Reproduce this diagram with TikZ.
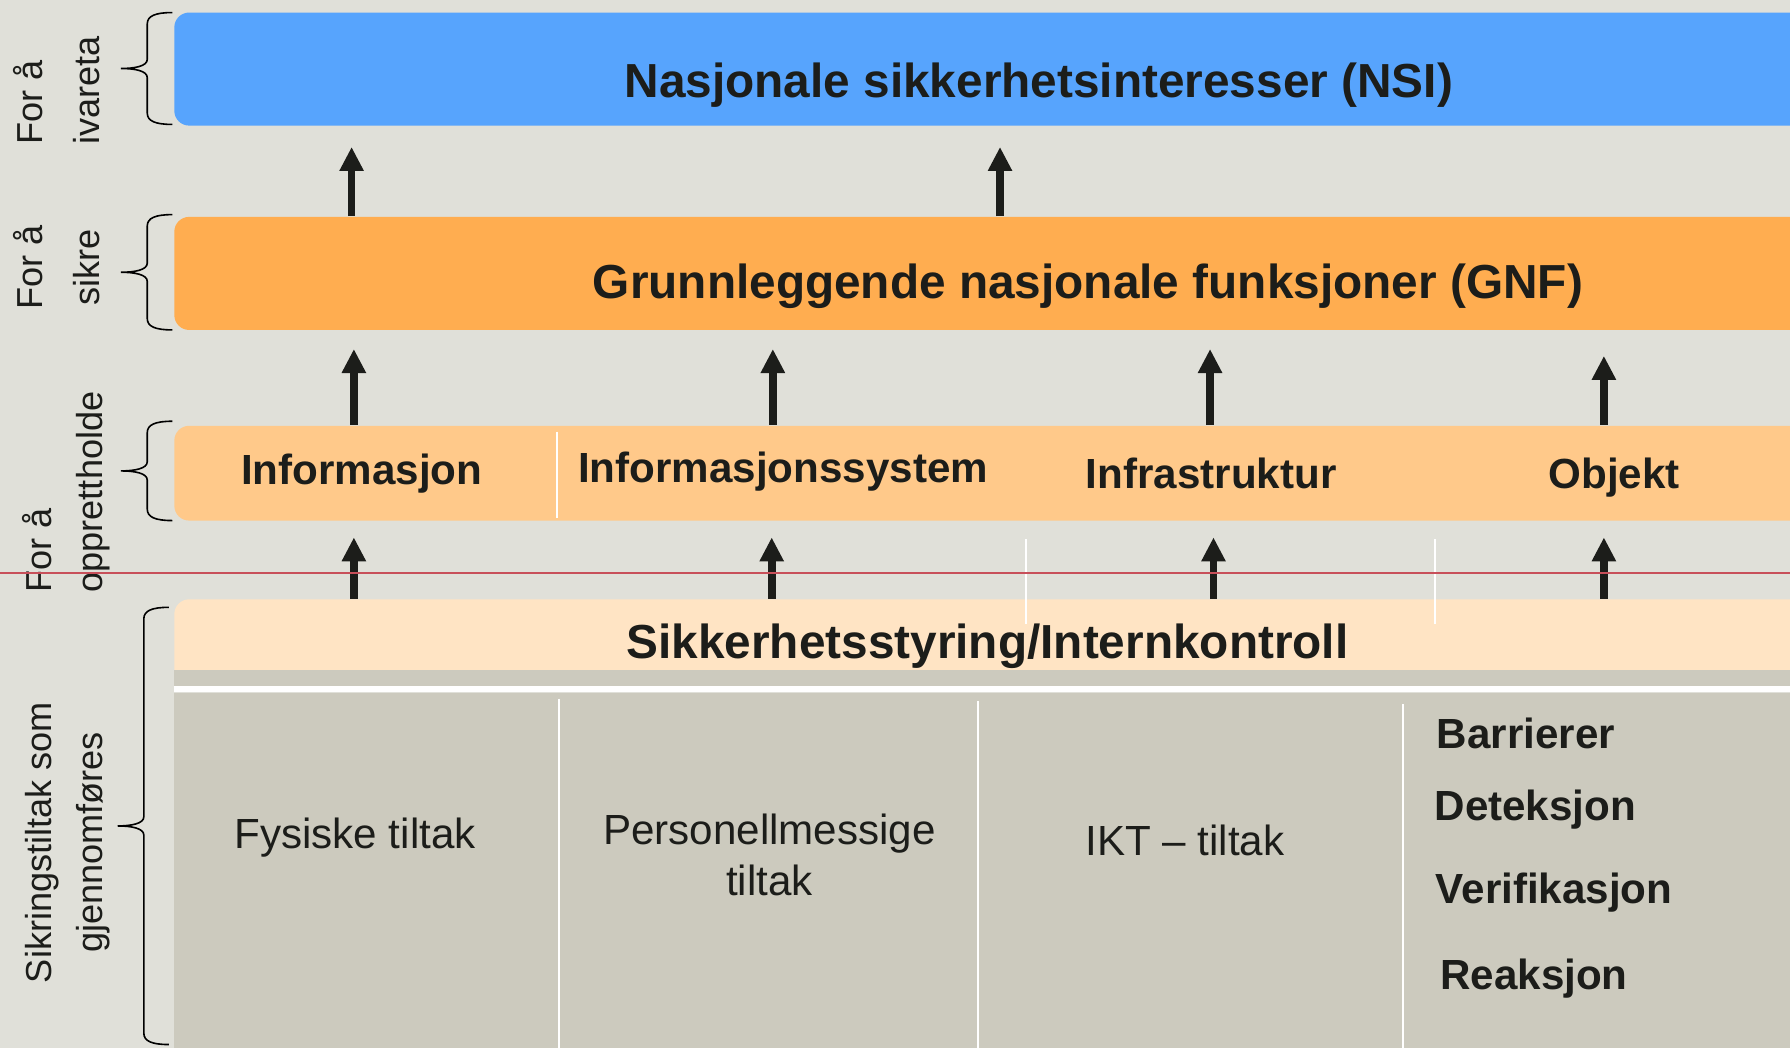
\documentclass[tikz,border=0pt]{standalone}
\usepackage{fontspec}
\setmainfont{Liberation Sans}
\usetikzlibrary{arrows.meta}

\definecolor{bggrey}{RGB}{224,224,217}
\definecolor{nsiblue}{RGB}{87,164,253}
\definecolor{gnforange}{RGB}{255,173,80}
\definecolor{verdiorange}{RGB}{255,201,138}
\definecolor{styringbeige}{RGB}{255,228,196}
\definecolor{tiltakgrey}{RGB}{204,202,190}
\definecolor{inkdark}{RGB}{28,29,26}
\definecolor{redline}{RGB}{200,80,90}

% brace on the left: top, bottom, x of the spine
\newcommand{\levelbrace}[3]{%
  \pgfmathsetmacro{\bmid}{(#1+#2)/2}
  \draw[sidebrace] (#3+22,#1) .. controls (#3+7,#1) and (#3,#1+3) .. (#3,#1+10)
    -- (#3,\bmid-8) .. controls (#3,\bmid-2) and (#3-11,\bmid) .. (#3-23,\bmid)
    .. controls (#3-11,\bmid) and (#3,\bmid+2) .. (#3,\bmid+8)
    -- (#3,#2-10) .. controls (#3,#2-3) and (#3+7,#2) .. (#3+22,#2);}

\begin{document}
\begin{tikzpicture}[x=0.01cm, y=-0.01cm,
    band/.style={rectangle, rounded corners=0.13cm, anchor=west, inner sep=0pt, minimum width=14.6cm},
    bigtext/.style={font=\fontsize{11.9}{14}\selectfont\bfseries, text=inkdark, inner sep=0pt, yshift=-0.04cm},
    midtext/.style={font=\fontsize{10.5}{12.8}\selectfont\bfseries, text=inkdark, inner sep=0pt, yshift=-0.035cm},
    tiltaktext/.style={font=\fontsize{10.5}{12.8}\selectfont, text=inkdark, align=center, inner sep=0pt, yshift=-0.03cm},
    sidetext/.style={font=\fontsize{9}{14.2}\selectfont, text=inkdark, rotate=90, inner sep=0pt},
    uparrow/.style={draw=inkdark, line width=0.067cm, -{Triangle[width=0.2cm,length=0.21cm]}},
    divider/.style={draw=white, line width=0.45pt},
    sidebrace/.style={draw=black, line width=0.4pt},
  ]
  \useasboundingbox (0,0) rectangle (1568,918);
  \clip (0,0) rectangle (1568,918);
  \fill[bggrey] (0,0) rectangle (1568,918);

  %Bands
  \node[band, fill=nsiblue, minimum height=0.99cm] (nsi) at (152,60.5) {};
  \node[band, fill=gnforange, minimum height=0.99cm] (gnf) at (152,239.5) {};
  \node[band, fill=verdiorange, minimum height=0.83cm] (verdier) at (152,414.5) {};
  \node[band, fill=styringbeige, minimum height=0.75cm] (styring) at (152,562.5) {};
  \fill[tiltakgrey] (152,587) rectangle (1568,601);
  \draw[white, line width=0.05cm] (152,603.5) -- (1568,603.5);
  \node[rectangle, fill=tiltakgrey, anchor=north west, inner sep=0pt,
        minimum width=14.2cm, minimum height=3.12cm] (tiltak) at (152,606) {};

  %Texts
  \node[bigtext] (nsitxt) at (910,71) {Nasjonale sikkerhetsinteresser (NSI)};
  \node[bigtext] (gnftxt) at (953,247) {Grunnleggende nasjonale funksjoner (GNF)};
  \node[midtext] (info) at (317,411) {Informasjon};
  \node[midtext] (infosys) at (686,410) {Informasjonssystem};
  \node[midtext] (infra) at (1061,411) {Infrastruktur};
  \node[midtext] (objekt) at (1414,415) {Objekt};
  \node[bigtext] (styringtxt) at (865,562) {Sikkerhetsstyring/Internkontroll};
  \node[tiltaktext] (fysisk) at (311,731) {Fysiske tiltak};
  \node[tiltaktext] (personell) at (674,746) {Personellmessige\\tiltak};
  \node[tiltaktext] (ikt) at (1038,733) {IKT – tiltak};
  \node[midtext, anchor=west] (barrierer) at (1258,639) {Barrierer};
  \node[midtext, anchor=west] (deteksjon) at (1256,706) {Deteksjon};
  \node[midtext, anchor=west] (verifikasjon) at (1257,778) {Verifikasjon};
  \node[midtext, anchor=west] (reaksjon) at (1261,854) {Reaksjon};

  %Side labels
  \node[sidetext, align=left] (ivareta) at (50,79) {For å\\ivareta};
  \node[sidetext, align=center] (sikre) at (50,234) {For å\\sikre};
  \node[sidetext, align=left, font=\fontsize{9}{12.8}\selectfont] (opprett) at (58,431) {For å\\opprettholde};
  \node[sidetext, align=center, font=\fontsize{9}{12.8}\selectfont] (sikring) at (59.5,738) {Sikringstiltak som\\gjennomføres};
  \levelbrace{11}{109}{129}
  \levelbrace{188}{289}{129}
  \levelbrace{369}{456}{129}
  \levelbrace{532}{915}{126}

  %Arrows
  \foreach \ax in {308,876}
    \draw[uparrow, shorten >=0.18cm] (\ax,0 |- gnf.north) -- (\ax,0 |- nsi.south);
  \foreach \ax/\gap in {310/0.16cm,677/0.16cm,1060/0.16cm,1405/0.22cm}
    \draw[uparrow, shorten >=\gap] (\ax,0 |- verdier.north) -- (\ax,0 |- gnf.south);
  \foreach \ax in {310,676,1063,1405}
    \draw[uparrow, shorten >=0.14cm] (\ax,0 |- styring.north) -- (\ax,0 |- verdier.south);

  %Dividers
  \draw[divider] (488,378) -- (488,454);
  \draw[divider] (899,472) -- (899,547);
  \draw[divider] (1257,472) -- (1257,547);
  \draw[divider] (490,612) -- (490,918);
  \draw[divider] (857,614) -- (857,918);
  \draw[divider] (1229,617) -- (1229,918);

  \draw[redline, line width=0.02cm] (0,502) -- (1568,502);
\end{tikzpicture}
\end{document}
